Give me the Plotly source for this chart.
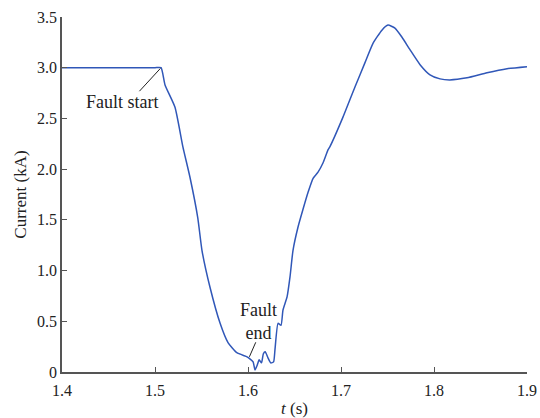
import plotly.graph_objects as go

# Current waveform through the fault event
t_s = [1.400, 1.420, 1.440, 1.460, 1.480, 1.500, 1.5065, 1.5108, 1.5215, 1.530,
       1.5376, 1.546, 1.5505, 1.559, 1.570, 1.5785, 1.588, 1.599, 1.602,
       1.6055, 1.6075, 1.610, 1.612, 1.6145, 1.6165, 1.6185, 1.6215, 1.6245,
       1.6275, 1.629, 1.6323, 1.6355, 1.6376, 1.642, 1.6452, 1.6484, 1.6538,
       1.659, 1.6645, 1.670, 1.6753, 1.6806, 1.686, 1.688, 1.702, 1.715, 1.7258,
       1.7344, 1.744, 1.7505, 1.758, 1.7656, 1.774, 1.785, 1.7957, 1.8065,
       1.817, 1.8355, 1.857, 1.8785, 1.900]
current_ka = [3.00, 3.00, 3.00, 3.00, 3.00, 3.00, 3.00, 2.83, 2.61, 2.22,
              1.92, 1.52, 1.20, 0.84, 0.48, 0.29, 0.19, 0.15, 0.13,
              0.10, 0.02, 0.07, 0.12, 0.09, 0.18, 0.20, 0.14, 0.09,
              0.10, 0.22, 0.48, 0.46, 0.61, 0.74, 0.94, 1.20, 1.43,
              1.60, 1.77, 1.91, 1.97, 2.06, 2.19, 2.22, 2.51, 2.81, 3.05,
              3.24, 3.37, 3.42, 3.39, 3.30, 3.18, 3.03, 2.93, 2.89,
              2.88, 2.90, 2.95, 2.99, 3.01]

y_ticks = [0, 0.5, 1.0, 1.5, 2.0, 2.5, 3.0, 3.5]
y_tick_text = ["0", "0.5", "1.0", "1.5", "2.0", "2.5", "3.0", "3.5"]
x_ticks = [1.4, 1.5, 1.6, 1.7, 1.8, 1.9]
x_tick_text = ["1.4", "1.5", "1.6", "1.7", "1.8", "1.9"]

FONT = "Liberation Serif, Times New Roman, serif"
AXIS_COLOR = "#555555"
TEXT_COLOR = "#222222"

fig = go.Figure()
fig.add_trace(go.Scatter(
    x=t_s, y=current_ka, mode="lines",
    line=dict(color="#3057b8", width=1.5, shape="spline", smoothing=0.5),
    showlegend=False,
))

fig.update_layout(
    width=540, height=418,
    margin=dict(l=62, r=13, t=17, b=46),
    paper_bgcolor="white", plot_bgcolor="white",
    font=dict(family=FONT, size=16, color=TEXT_COLOR),
    xaxis=dict(
        range=[1.4, 1.9], tickvals=x_ticks, ticktext=x_tick_text,
        ticks="inside", ticklen=5, tickcolor=AXIS_COLOR, tickwidth=1,
        showline=True, linecolor=AXIS_COLOR, linewidth=1.5,
        showgrid=False, zeroline=False, tickfont=dict(size=16),
        ticklabelstandoff=3, automargin=False,
        title=dict(text="<i>t</i> (s)", standoff=6, font=dict(size=17)),
    ),
    yaxis=dict(
        range=[0, 3.5], tickvals=y_ticks, ticktext=y_tick_text,
        ticks="inside", ticklen=5, tickcolor=AXIS_COLOR, tickwidth=1,
        showline=True, linecolor=AXIS_COLOR, linewidth=1.5,
        showgrid=False, zeroline=False, tickfont=dict(size=16),
        automargin=False,
        title=dict(text="Current (kA)", standoff=6, font=dict(size=17)),
    ),
)

# Event labels with leader lines
fig.add_annotation(x=1.5065, y=3.0, ax=-23, ay=25, axref="pixel", ayref="pixel",
                   text="", showarrow=True, arrowhead=0, arrowwidth=1,
                   arrowcolor=TEXT_COLOR, standoff=1)
fig.add_annotation(x=1.5065, y=3.0, text="Fault start", showarrow=False,
                   xshift=-39, yshift=-34,
                   font=dict(family=FONT, size=18, color=TEXT_COLOR))
fig.add_annotation(x=1.6015, y=0.15, ax=7, ay=-16, text="",
                   showarrow=True, arrowhead=0, arrowwidth=1, arrowcolor=TEXT_COLOR)
fig.add_annotation(x=1.6015, y=0.15, text="Fault<br>end", showarrow=False,
                   xshift=9, yshift=35,
                   font=dict(family=FONT, size=18, color=TEXT_COLOR))

fig.write_html("out.html")
